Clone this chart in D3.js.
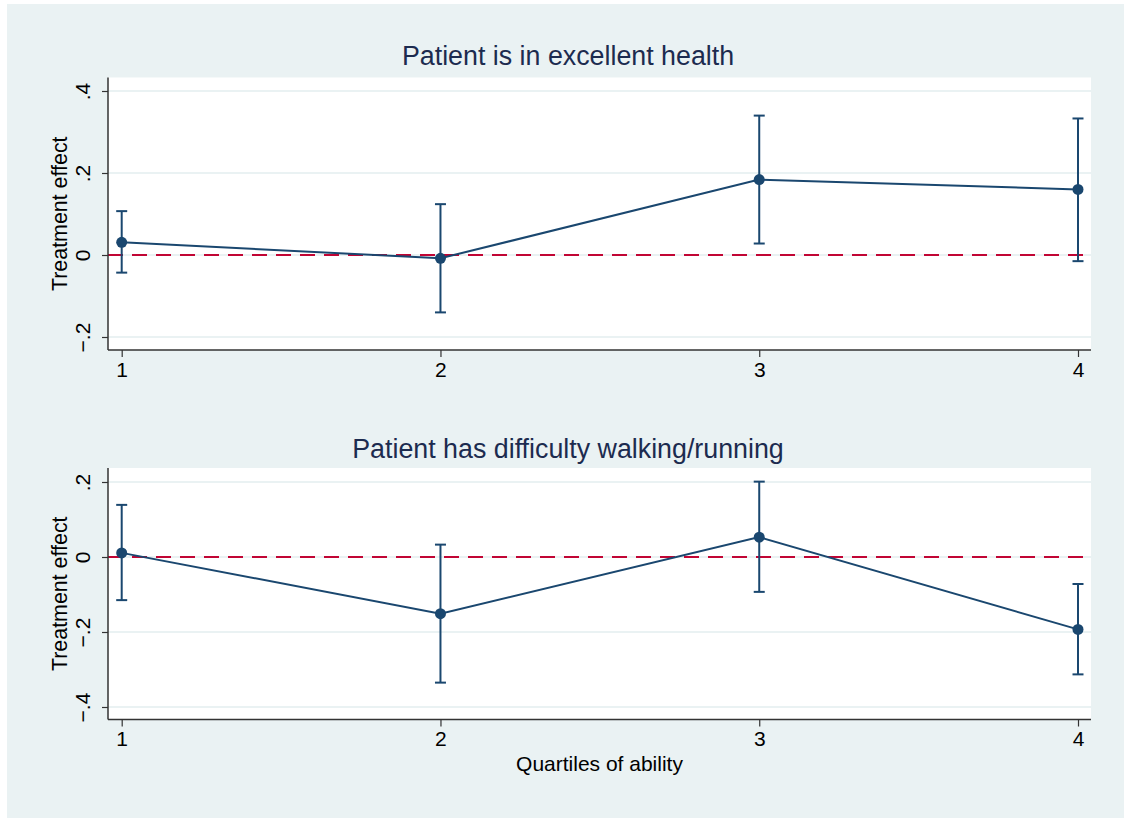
<!DOCTYPE html>
<html>
<head>
<meta charset="utf-8">
<script src="https://cdn.jsdelivr.net/npm/d3@7/dist/d3.min.js"></script>
<style>
  html, body { margin: 0; padding: 0; background: #ffffff; }
  svg { display: block; font-family: "Liberation Sans", Arial, Helvetica, sans-serif; }
</style>
</head>
<body>
<svg id="chart" width="1124" height="818"></svg>
<script>
// Quartiles of ability on the x axis
const quartiles = [1, 2, 3, 4];
const xTickLabels = ["1", "2", "3", "4"];

// Panel 1: Patient is in excellent health
const healthEffect = [0.031, -0.008, 0.184, 0.160];
const healthLower  = [-0.043, -0.140, 0.028, -0.015];
const healthUpper  = [0.107, 0.124, 0.340, 0.333];
const healthTicks  = [-0.2, 0, 0.2, 0.4];
const healthTickLabels = ["−.2", "0", ".2", ".4"];

// Panel 2: Patient has difficulty walking/running
const walkEffect = [0.011, -0.151, 0.053, -0.193];
const walkLower  = [-0.115, -0.335, -0.093, -0.313];
const walkUpper  = [0.139, 0.033, 0.201, -0.072];
const walkTicks  = [-0.4, -0.2, 0, 0.2];
const walkTickLabels = ["−.4", "−.2", "0", ".2"];

const panelTitles = ["Patient is in excellent health", "Patient has difficulty walking/running"];
const yTitle = "Treatment effect";
const xTitle = "Quartiles of ability";

const navy = "#1a476f";
const cranberry = "#c10534";
const bg = "#eaf2f3";
const grid = "#eaf2f3";
const axisColor = "#333333";
const titleColor = "#1c2b4f";

const svg = d3.select("#chart");

// outer graph region
svg.append("rect")
  .attr("x", 7).attr("y", 4)
  .attr("width", 1124 - 7).attr("height", 818 - 4)
  .attr("fill", bg);

const plotLeft = 108, plotRight = 1091;
const x = d3.scaleLinear().domain([1, 4]).range([121.7, 1078]);

const panels = [
  {
    title: panelTitles[0], titleY: 65,
    top: 77.5, bottom: 350,
    yDomain: [-0.2, 0.2], yRange: [337, 173],
    effect: healthEffect, lower: healthLower, upper: healthUpper,
    ticks: healthTicks, tickLabels: healthTickLabels
  },
  {
    title: panelTitles[1], titleY: 458,
    top: 468, bottom: 719.5,
    yDomain: [-0.2, 0.2], yRange: [632, 482],
    effect: walkEffect, lower: walkLower, upper: walkUpper,
    ticks: walkTicks, tickLabels: walkTickLabels
  }
];

panels.forEach((p, pi) => {
  const y = d3.scaleLinear().domain(p.yDomain).range(p.yRange);
  const g = svg.append("g");

  // plot region
  g.append("rect")
    .attr("x", plotLeft).attr("y", p.top)
    .attr("width", plotRight - plotLeft).attr("height", p.bottom - p.top)
    .attr("fill", "#ffffff");

  // horizontal grid lines at major ticks
  g.selectAll(".grid").data(p.ticks).join("line")
    .attr("x1", plotLeft).attr("x2", plotRight)
    .attr("y1", d => y(d)).attr("y2", d => y(d))
    .attr("stroke", grid).attr("stroke-width", 2);

  // reference line at zero
  g.append("line")
    .attr("x1", plotLeft).attr("x2", plotRight)
    .attr("y1", y(0)).attr("y2", y(0))
    .attr("stroke", cranberry).attr("stroke-width", 2)
    .attr("stroke-dasharray", "15,9");

  // y axis
  const yAxis = d3.axisLeft(y)
    .tickValues(p.ticks)
    .tickFormat((d, i) => p.tickLabels[i])
    .tickSize(6).tickPadding(0);
  const ya = g.append("g").attr("transform", `translate(${plotLeft},0)`).call(yAxis);
  ya.select(".domain").attr("d", `M0,${p.top}V${p.bottom}`).attr("stroke", axisColor).attr("stroke-width", 1.5);
  ya.selectAll(".tick line").attr("stroke", axisColor).attr("stroke-width", 1.2);
  ya.selectAll(".tick text")
    .attr("x", 0).attr("y", 0).attr("dy", 0)
    .attr("transform", "translate(-18,0) rotate(-90)")
    .attr("text-anchor", "middle")
    .attr("font-size", 21)
    .attr("font-family", "Liberation Sans, Arial, sans-serif")
    .attr("fill", "#000");

  // x axis
  const xAxis = d3.axisBottom(x)
    .tickValues(quartiles)
    .tickFormat((d, i) => xTickLabels[i])
    .tickSize(7).tickPadding(5);
  const xa = g.append("g").attr("transform", `translate(0,${p.bottom})`).call(xAxis);
  xa.select(".domain").attr("d", `M${plotLeft},0H${plotRight}`).attr("stroke", axisColor).attr("stroke-width", 1.5);
  xa.selectAll(".tick line").attr("stroke", axisColor).attr("stroke-width", 1.2);
  xa.selectAll(".tick text")
    .attr("font-size", 21)
    .attr("font-family", "Liberation Sans, Arial, sans-serif")
    .attr("fill", "#000");

  // y title
  g.append("text")
    .attr("transform", `translate(67,${(p.top + p.bottom) / 2}) rotate(-90)`)
    .attr("text-anchor", "middle")
    .attr("font-size", 21.4)
    .attr("fill", "#000")
    .text(yTitle);

  // panel title
  g.append("text")
    .attr("x", 568).attr("y", p.titleY)
    .attr("text-anchor", "middle")
    .attr("font-size", 26.8)
    .attr("fill", titleColor)
    .text(p.title);

  const pts = quartiles.map((q, i) => ({ q, v: p.effect[i], lo: p.lower[i], hi: p.upper[i] }));

  // confidence intervals
  const ci = g.append("g").attr("stroke", navy).attr("stroke-width", 2).attr("fill", "none");
  ci.selectAll(".bar").data(pts).join("line")
    .attr("x1", d => x(d.q)).attr("x2", d => x(d.q))
    .attr("y1", d => y(d.lo)).attr("y2", d => y(d.hi));
  ci.selectAll(".capHi").data(pts).join("line")
    .attr("x1", d => x(d.q) - 5.5).attr("x2", d => x(d.q) + 5.5)
    .attr("y1", d => y(d.hi)).attr("y2", d => y(d.hi));
  ci.selectAll(".capLo").data(pts).join("line")
    .attr("x1", d => x(d.q) - 5.5).attr("x2", d => x(d.q) + 5.5)
    .attr("y1", d => y(d.lo)).attr("y2", d => y(d.lo));

  // point estimates connected
  g.append("path")
    .datum(pts)
    .attr("d", d3.line().x(d => x(d.q)).y(d => y(d.v)))
    .attr("fill", "none").attr("stroke", navy).attr("stroke-width", 2);
  g.selectAll(".pt").data(pts).join("circle")
    .attr("cx", d => x(d.q)).attr("cy", d => y(d.v))
    .attr("r", 5.5).attr("fill", navy);
});

// x axis title
svg.append("text")
  .attr("x", (plotLeft + plotRight) / 2).attr("y", 771)
  .attr("text-anchor", "middle")
  .attr("font-size", 21)
  .attr("fill", "#000")
  .text(xTitle);
</script>
</body>
</html>
